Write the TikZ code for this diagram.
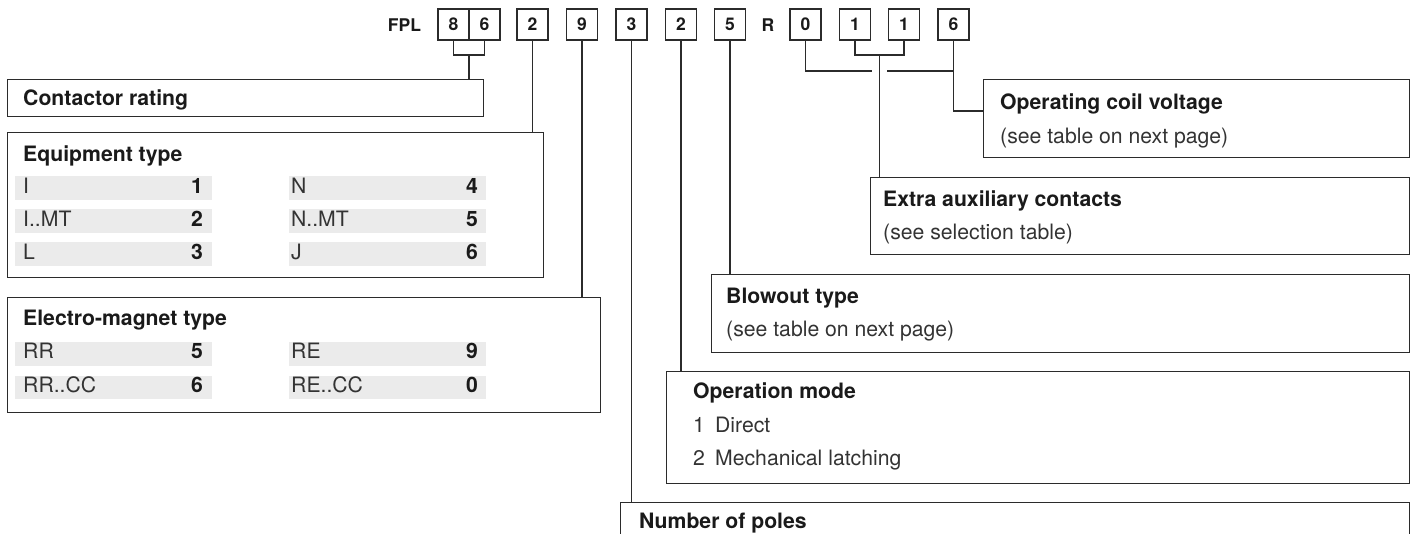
\documentclass[tikz,border=0pt]{standalone}
\usepackage{fontspec}
\setmainfont{TeX Gyre Heros}
\definecolor{ink}{HTML}{1A1A1A}
\definecolor{linec}{HTML}{2B2B2B}
\definecolor{bodyc}{HTML}{333333}
\definecolor{rowgray}{HTML}{EBEBEB}
\newcommand\titlefnt{\fontsize{21.2}{24}\selectfont\bfseries}
\newcommand\bodyfnt{\fontsize{21.2}{24}\selectfont}
\newcommand\codefnt{\fontsize{17.5}{20}\selectfont\bfseries}
\begin{document}
\begin{tikzpicture}[x=1pt,y=-1pt,
  conn/.style={draw=linec,line width=1.3pt},
  frame/.style={draw=linec,line width=1.3pt,inner sep=0,anchor=north west},
  codebox/.style={draw=linec,line width=1.3pt,inner sep=0,minimum width=31pt,minimum height=31pt,font=\codefnt,text=ink},
  codetxt/.style={anchor=base,inner sep=0,font=\codefnt,text=ink},
  title/.style={anchor=base west,inner sep=0,font=\titlefnt,text=ink},
  plain/.style={anchor=base west,inner sep=0,font=\bodyfnt,text=bodyc},
  num/.style={anchor=base east,inner sep=0,font=\titlefnt,text=ink},
  rowbg/.style={fill=rowgray,inner sep=0,anchor=north west,minimum width=197pt,minimum height=23.5pt},
]
\useasboundingbox (0,0) rectangle (1416,534);
\clip (0,0) rectangle (1416,534);

% ---------- boxes ----------
\node[frame,minimum width=476pt,minimum height=37pt] (rating) at (7,79) {};
\node[frame,minimum width=536pt,minimum height=145pt] (equip) at (7,132) {};
\node[frame,minimum width=593pt,minimum height=115pt] (magnet) at (7,297) {};
\node[frame,minimum width=426pt,minimum height=78pt] (coil) at (983,79) {};
\node[frame,minimum width=539pt,minimum height=77pt] (aux) at (870,177) {};
\node[frame,minimum width=698pt,minimum height=78pt] (blow) at (711,274) {};
\node[frame,minimum width=743pt,minimum height=112pt] (mode) at (666,371) {};
\node[frame,minimum width=789pt,minimum height=80pt] (poles) at (620,502) {};

% ---------- code row ----------
\node[codetxt] (fpl) at (404.5,31.5) {FPL};
\node[codebox] (c8) at (453.5,24.5) {8};
\node[codebox] (c6) at (484.5,24.5) {6};
\node[codebox] (c2) at (532.5,24.5) {2};
\node[codebox] (c9) at (582,24.5) {9};
\node[codebox] (c3) at (631.5,24.5) {3};
\node[codebox] (c2b) at (681,24.5) {2};
\node[codebox] (c5) at (730,24.5) {5};
\node[codetxt] (cr) at (768,31.5) {R};
\node[codebox] (c0) at (805.5,24.5) {0};
\node[codebox] (c1a) at (855,24.5) {1};
\node[codebox] (c1b) at (904,24.5) {1};
\node[codebox] (c6b) at (953.5,24.5) {6};

% ---------- helper coordinates ----------
\coordinate (brk) at (0,55);
\coordinate (jog6) at (0,111);
\coordinate (m86) at (469,55);
\coordinate (m11) at (879.5,55);
\coordinate (gapL) at (872,71);
\coordinate (gapR) at (887,71);

% ---------- connectors ----------
\draw[conn] (c8.south) |- (c6.south |- brk) -- (c6.south);
\draw[conn] (m86) -- (m86 |- rating.north);
\draw[conn] (c2.south) -- (c2.south |- equip.north);
\draw[conn] (c9.south) -- (c9.south |- magnet.north);
\draw[conn] (c3.south) -- (c3.south |- poles.north);
\draw[conn] (c2b.south) -- (c2b.south |- mode.north);
\draw[conn] (c5.south) -- (c5.south |- blow.north);
\draw[conn] (c0.south) |- (gapL);
\draw[conn] (gapR) -- (c6b.south |- gapR);
\draw[conn] (c1a.south) |- (c1b.south |- brk) -- (c1b.south);
\draw[conn] (m11) -- (m11 |- aux.north);
\draw[conn] (c6b.south) |- (coil.west |- jog6);

% ---------- contactor rating ----------
\node[title] (t-rating) at (23,106) {Contactor rating};

% ---------- equipment type ----------
\node[title] (t-equip) at (23,162) {Equipment type};
\node[rowbg] (e1l) at (15,176) {};
\node[rowbg] (e2l) at (15,209) {};
\node[rowbg] (e3l) at (15,242) {};
\node[rowbg] (e1r) at (289,176) {};
\node[rowbg] (e2r) at (289,209) {};
\node[rowbg] (e3r) at (289,242) {};
\node[plain] (e1a) at (23,194) {I};
\node[num]   (e1b) at (203,194) {1};
\node[plain] (e2a) at (23,227) {I..MT};
\node[num]   (e2b) at (203,227) {2};
\node[plain] (e3a) at (23,260) {L};
\node[num]   (e3b) at (203,260) {3};
\node[plain] (e4a) at (291,194) {N};
\node[num]   (e4b) at (478,194) {4};
\node[plain] (e5a) at (291,227) {N..MT};
\node[num]   (e5b) at (478,227) {5};
\node[plain] (e6a) at (291,260) {J};
\node[num]   (e6b) at (478,260) {6};

% ---------- electro-magnet type ----------
\node[title] (t-magnet) at (23,326) {Electro-magnet type};
\node[rowbg] (m1l) at (15,342) {};
\node[rowbg] (m2l) at (15,375.5) {};
\node[rowbg] (m1r) at (289,342) {};
\node[rowbg] (m2r) at (289,375.5) {};
\node[plain] (m1a) at (23,358.5) {RR};
\node[num]   (m1b) at (203,358.5) {5};
\node[plain] (m2a) at (23,392) {RR..CC};
\node[num]   (m2b) at (203,392) {6};
\node[plain] (m3a) at (291,358.5) {RE};
\node[num]   (m3b) at (478,358.5) {9};
\node[plain] (m4a) at (291,392) {RE..CC};
\node[num]   (m4b) at (478,392) {0};

% ---------- right-hand boxes ----------
\node[title] (t-coil) at (1000,110) {Operating coil voltage};
\node[plain] (s-coil) at (1000,144) {(see table on next page)};
\node[title] (t-aux) at (883,206.5) {Extra auxiliary contacts};
\node[plain] (s-aux) at (883,240) {(see selection table)};
\node[title] (t-blow) at (726,304) {Blowout type};
\node[plain] (s-blow) at (726,337) {(see table on next page)};
\node[title] (t-mode) at (693,398.5) {Operation mode};
\node[plain] (s-mode1) at (693,432) {\makebox[22pt][l]{1}Direct};
\node[plain] (s-mode2) at (693,465) {\makebox[22pt][l]{2}Mechanical latching};
\node[title] (t-poles) at (639,528) {Number of poles};
\end{tikzpicture}
\end{document}
